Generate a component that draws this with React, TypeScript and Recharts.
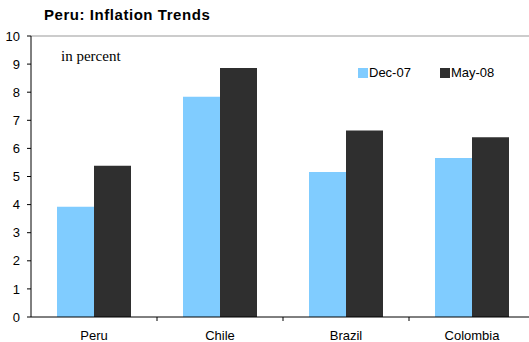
import React from 'react';
import { BarChart, Bar, XAxis, YAxis, ReferenceLine } from 'recharts';

const categories = ['Peru', 'Chile', 'Brazil', 'Colombia'];
const dec07 = [3.92, 7.84, 5.16, 5.66];
const may08 = [5.38, 8.86, 6.64, 6.4];
const yTicks = [0, 1, 2, 3, 4, 5, 6, 7, 8, 9, 10];
const seriesNames = ['Dec-07', 'May-08'];
const colors = ['#80CCFF', '#2F2F2F'];

const data = categories.map((c, i) => ({ name: c, dec: dec07[i], may: may08[i] }));

const FONT = 'Liberation Sans, Arial, sans-serif';

const XTick = (props: any) => {
  const { x, y, payload, index } = props;
  const off = payload.offset || 0;
  return (
    <g>
      {index > 0 && (
        <line x1={x - off} x2={x - off} y1={y} y2={y + 4} stroke="#000" strokeWidth={1} />
      )}
      <text x={x} y={y + 23} textAnchor="middle" fontFamily={FONT} fontSize={13} fill="#000">
        {payload.value}
      </text>
    </g>
  );
};

export default function App() {
  return (
    <div style={{ position: 'fixed', left: 0, top: 0, width: 529, height: 342, overflow: 'hidden', background: '#fff' }}>
      <div style={{ position: 'absolute', left: 44, top: 6, fontFamily: FONT, fontWeight: 'bold', fontSize: 15, letterSpacing: 0.55, color: '#000', whiteSpace: 'nowrap' }}>
        Peru: Inflation Trends
      </div>
      <div style={{ position: 'absolute', left: 61, top: 48, fontFamily: 'Liberation Serif, Times New Roman, serif', fontSize: 15, color: '#000', whiteSpace: 'nowrap', zIndex: 2 }}>
        in percent
      </div>
      <div style={{ position: 'absolute', left: 358, top: 65, display: 'flex', fontFamily: FONT, fontSize: 13, color: '#000', zIndex: 2 }}>
        {seriesNames.map((n, i) => (
          <div key={n} style={{ display: 'flex', alignItems: 'center', marginRight: i === 0 ? 29 : 0 }}>
            <div style={{ width: 10, height: 10, background: colors[i], marginRight: 1 }} />
            <span>{n}</span>
          </div>
        ))}
      </div>
      <BarChart
        width={545}
        height={342}
        data={data}
        margin={{ top: 36, right: 10, bottom: 0, left: 0 }}
        barCategoryGap={26}
        barGap={0}
      >
        <ReferenceLine y={10} stroke="#999" strokeWidth={1} />
        <XAxis
          dataKey="name"
          height={25}
          axisLine={{ stroke: '#000', strokeWidth: 1 }}
          tickLine={false}
          tickSize={0}
          tickMargin={0}
          tick={<XTick />}
          interval={0}
        />
        <YAxis
          width={31}
          domain={[0, 10]}
          ticks={yTicks}
          interval={0}
          axisLine={{ stroke: '#000', strokeWidth: 1 }}
          tickLine={{ stroke: '#000' }}
          tickSize={4}
          tickMargin={7}
          tick={{ fontFamily: FONT, fontSize: 13, fill: '#000' }}
        />
        <Bar dataKey="dec" name={seriesNames[0]} fill={colors[0]} isAnimationActive={false} />
        <Bar dataKey="may" name={seriesNames[1]} fill={colors[1]} isAnimationActive={false} />
      </BarChart>
    </div>
  );
}
